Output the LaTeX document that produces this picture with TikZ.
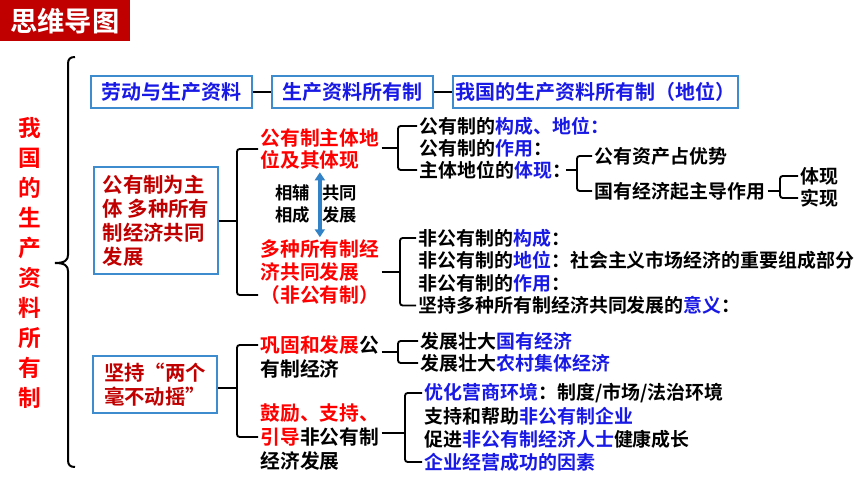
\documentclass[tikz,border=0pt]{standalone}
\usepackage{fontspec}
\setmainfont{Noto Sans CJK SC}[BoldFont=* Bold]
\usetikzlibrary{arrows.meta}
\definecolor{titlered}{RGB}{192,0,0}
\definecolor{darkred}{RGB}{192,0,0}
\definecolor{brightred}{RGB}{255,0,0}
\definecolor{textblue}{RGB}{25,25,230}
\definecolor{boxblue}{RGB}{62,140,205}
\definecolor{arrowblue}{RGB}{50,130,200}
\newcommand{\bl}[1]{\textcolor{textblue}{#1}}
\newcommand{\rd}[1]{\textcolor{brightred}{#1}}
\begin{document}
\begin{tikzpicture}[x=0.75pt,y=-0.75pt,
  item/.style={anchor=west,inner sep=0pt,outer sep=2pt,font=\bfseries\fontsize{14.2}{17}\selectfont},
  lbl/.style={anchor=west,inner sep=0pt,outer sep=2pt,align=left,font=\bfseries\fontsize{14.8}{18}\selectfont},
  redlbl/.style={lbl,text=brightred,font=\bfseries\fontsize{14.8}{17}\selectfont},
  small/.style={anchor=west,inner sep=0pt,align=left,font=\bfseries\fontsize{13}{16.5}\selectfont},
  bluebox/.style={draw=boxblue,line width=1.5pt,inner sep=0pt,minimum height=24pt,text=textblue,font=\bfseries\fontsize{15}{18}\selectfont},
  redbox/.style={draw=boxblue,line width=1.5pt,inner sep=0pt,align=left,text=darkred,font=\bfseries\fontsize{15.3}{18}\selectfont},
  conn/.style={line width=1.4pt,rounded corners=2pt},
  biarrow/.style={{Triangle[width=7.5pt,length=6pt]}-{Triangle[width=7.5pt,length=6pt]},line width=3pt,arrowblue}]
\useasboundingbox (0,0) rectangle (860,484);
%
\fill[titlered] (0,0) rectangle (130,41);
\node[text=white,font=\bfseries\fontsize{20.5}{24}\selectfont] (title) at (65,21) {思维导图};
\node[text=brightred,align=center,font=\bfseries\fontsize{17}{22.5}\selectfont] (vt) at (30,262.5) {我\\国\\的\\生\\产\\资\\料\\所\\有\\制};
\draw[line width=1.5pt] (75,57) .. controls (70,57) and (68,59) .. (68,64) -- (68,255)
  .. controls (68,260) and (65,263) .. (55,263) .. controls (65,263) and (68,266) .. (68,271)
  -- (68,460) .. controls (68,465) and (70,467) .. (75,467);
%
\node[bluebox,minimum width=120.75pt] (b1) at (171.5,92) {劳动与生产资料};
\node[bluebox,minimum width=120.75pt] (b2) at (352.5,92) {生产资料所有制};
\node[bluebox,minimum width=213.75pt] (b3) at (595.5,92) {我国的生产资料所有制（地位）};
\draw[conn] (b1) -- (b2);
\draw[conn] (b2) -- (b3);
%
\node[redbox,minimum width=93pt,minimum height=80.25pt] (a) at (156,220.5) {公有制为主\\体 多种所有\\制经济共同\\发展};
\node[redbox,minimum width=93pt,minimum height=42.75pt] (bb) at (155,384.5) {坚持“两个\\毫不动摇”};
%
\node[redlbl] (pub) at (258,149) {公有制主体地\\位及其体现};
\node[redlbl] (non) at (258,272) {多种所有制经\\济共同发展\\（非公有制）};
\node[small] (xf) at (275,204) {相辅\\相成};
\node[small] (gt) at (322,204) {共同\\发展};
\draw[biarrow] (pub.south) -- (pub.south |- non.north);
%
\coordinate (ka) at (237,221);
\draw[conn] (a.east |- ka) -- (ka);
\draw[conn] (pub.west) -| (ka) |- ([yshift=-17.25pt]non.west);
%
\node[item] (p1) at (417,126) {公有制的\bl{构成、地位：}};
\node[item] (p2) at (417,148) {公有制的\bl{作用}：};
\node[item] (p3) at (417,170) {主体地位的\bl{体现}：};
\coordinate (kp) at (398,148);
\draw[conn] (pub.east |- kp) -- (kp);
\draw[conn] (p1.west) -| (kp) |- (p3.west);
%
\node[item] (q1) at (592,156) {公有资产占优势};
\node[item] (q2) at (592,191) {国有经济起主导作用};
\coordinate (kq) at (577,171);
\draw[conn] ([xshift=-6pt]p3.east) -- (p3.east -| kq);
\draw[conn] (q1.west) -| (kq) |- (q2.west);
%
\node[item] (r1) at (798,176) {体现};
\node[item] (r2) at (798,198) {实现};
\coordinate (kr) at (780,191);
\draw[conn] (q2.east) -- (q2.east -| kr);
\draw[conn] (r1.west) -| (kr) |- (r2.west);
%
\node[item] (n1) at (416,238) {非公有制的\bl{构成}：};
\node[item] (n2) at (416,260.5) {非公有制的\bl{地位}：社会主义市场经济的重要组成部分};
\node[item] (n3) at (416,283) {非公有制的\bl{作用}：};
\node[item] (n4) at (416,305.5) {坚持多种所有制经济共同发展的\bl{意义}：};
\coordinate (kn) at (400,272);
\draw[conn] (non.east |- kn) -- (kn);
\draw[conn] (n1.west) -| (kn) |- (n4.west);
%
\node[lbl] (c1) at (258,357) {\rd{巩固和发展}公\\有制经济};
\node[lbl] (c2) at (258,437) {\rd{鼓励、支持、}\\\rd{引导}非公有制\\经济发展};
\coordinate (kb) at (237,388);
\draw[conn] (bb.east |- kb) -- (kb);
\draw[conn] ([yshift=9pt]c1.west) -| (kb) |- (c2.west);
%
\node[item] (d1) at (418,341) {发展壮大\bl{国有经济}};
\node[item] (d2) at (418,363) {发展壮大\bl{农村集体经济}};
\coordinate (kd) at (398,352);
\draw[conn] (c1.east |- kd) -- (kd);
\draw[conn] (d1.west) -| (kd) |- (d2.west);
%
\node[item] (e1) at (422,393) {\bl{优化营商环境}：制度/市场/法治环境};
\node[item] (e2) at (422,416) {支持和帮助\bl{非公有制企业}};
\node[item] (e3) at (422,439) {促进\bl{非公有制经济人士}健康成长};
\node[item] (e4) at (422,462) {\bl{企业经营成功的因素}};
\coordinate (ke) at (405,433);
\draw[conn] (c2.east |- ke) -- (ke);
\draw[conn] (e1.west) -| (ke) |- (e4.west);
\end{tikzpicture}
\end{document}
